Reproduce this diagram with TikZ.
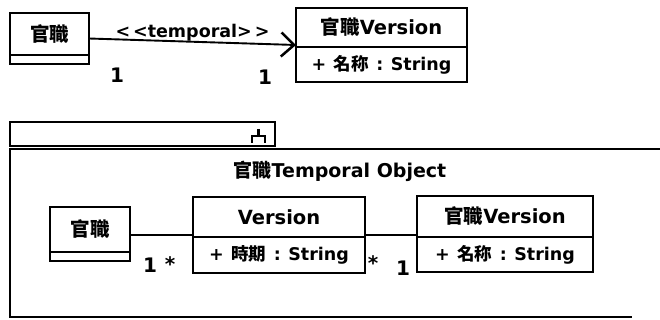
\documentclass[tikz,border=0pt]{standalone}
\usepackage{fontspec}
\setmainfont{DejaVu Sans}
\newfontfamily\cjk{Noto Sans CJK TC}
\usetikzlibrary{arrows.meta}
\newcommand{\zh}[1]{{\cjk\bfseries #1}}
\newcommand{\gap}{\hspace{7.5pt}}
\tikzset{
  cls/.style={draw, line width=2.8pt, inner sep=0pt, outer sep=0pt, font=\fontsize{19.5}{22}\selectfont\bfseries},
  attr/.style={cls, font=\fontsize{17.5}{21}\selectfont\bfseries},
  hull/.style={inner sep=0pt, outer sep=0pt},
  conn/.style={line width=1.9pt},
  mult/.style={font=\fontsize{20}{23}\selectfont\bfseries, inner sep=0pt},
  pkg/.style={line width=2.3pt},
}
\begin{document}
\begin{tikzpicture}[x=1pt,y=-1pt]
\useasboundingbox (0,0) rectangle (660,320);
\fill[white] (0,0) rectangle (660,320);

% ---- top: temporal association ----
\node[cls, minimum width=79, minimum height=42] (ghead) at (49.5,34) {\zh{官職}};
\node[cls, minimum width=79, minimum height=9, anchor=north] (gattr) at (ghead.south) {};
\node[hull, minimum width=79, minimum height=51] (gcls) at (49.5,38.5) {};

\node[cls, minimum width=171, minimum height=39] (vhead) at (381.5,27.5) {\zh{官職}Version};
\node[attr, minimum width=171, minimum height=35, anchor=north] (vattr) at (vhead.south) {+\gap\zh{名称}\gap:\gap String};
\node[hull, minimum width=171, minimum height=74] (vcls) at (381.5,45) {};

\draw[conn, -{Straight Barb[length=13pt,width=24pt,line width=2.5pt]}] (gcls.east) -- (vcls.west)
  node[pos=0.5, above=-1pt, font=\fontsize{17.5}{20}\selectfont\bfseries, inner sep=1pt] (st) {<\,<temporal>\,>};
\node[mult] (m1) at (117,75) {1};
\node[mult] (m2) at (265,77) {1};

% ---- package ----
\draw[pkg] (10,146) rectangle (275,122);
\coordinate (pNE) at (662,149);
\coordinate (pSW) at (10,317);
\draw[pkg] (pNE) -- (10,149) -- (pSW) -- (632,317);
% package icon in the tab
\draw[line width=2.2pt] (258.5,129) -- (258.5,136) (252,143) -- (252,136) -- (265,136) -- (265,143);
\node[font=\fontsize{19}{22}\selectfont\bfseries, inner sep=0pt] (ptitle) at (340,171) {\zh{官職}Temporal Object};

% ---- package content ----
\node[cls, minimum width=80, minimum height=45] (ihead) at (90,229.5) {\zh{官職}};
\node[cls, minimum width=80, minimum height=9, anchor=north] (iattr) at (ihead.south) {};
\node[hull, minimum width=80, minimum height=40] (icls) at (90,235) {};

\node[cls, minimum width=172, minimum height=40] (ver) at (279,217) {Version};
\node[attr, minimum width=172, minimum height=36, anchor=north] (verattr) at (ver.south) {+\gap\zh{時期}\gap:\gap String};
\node[hull, minimum width=172, minimum height=40] (vercls) at (279,235) {};

\node[cls, minimum width=176, minimum height=41] (gv2) at (505,216.5) {\zh{官職}Version};
\node[attr, minimum width=176, minimum height=35, anchor=north] (gv2attr) at (gv2.south) {+\gap\zh{名称}\gap:\gap String};
\node[hull, minimum width=176, minimum height=40] (gv2cls) at (505,235) {};

\draw[conn] (icls.east) -- (vercls.west);
\draw[conn] (vercls.east) -- (gv2cls.west);
\node[mult] (m3) at (150,265) {1};
\node[mult] (m4) at (170,264) {*};
\node[mult] (m5) at (373,263) {*};
\node[mult] (m6) at (403,268) {1};
\end{tikzpicture}
\end{document}
